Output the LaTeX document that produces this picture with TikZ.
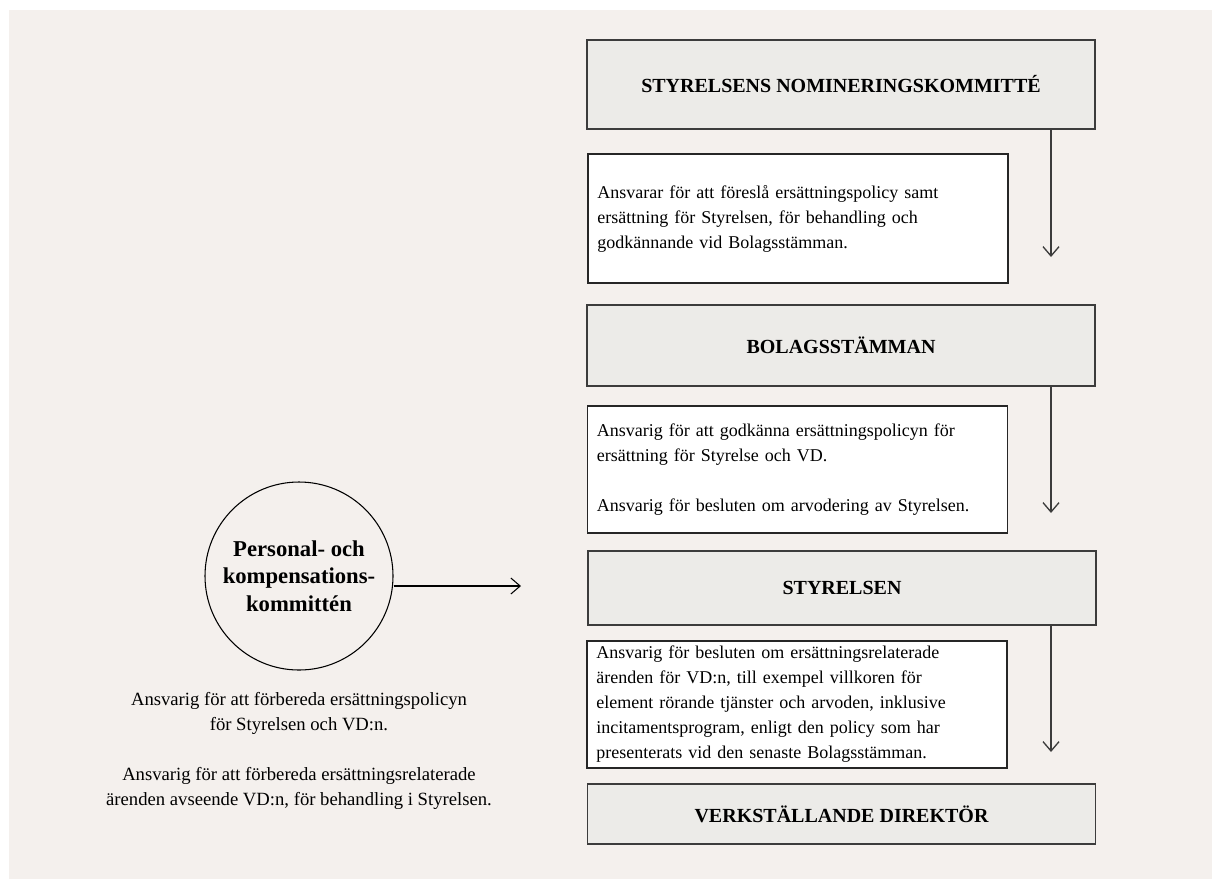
\documentclass[tikz,border=0pt]{standalone}
\usepackage{fontspec}
\setmainfont{Liberation Serif}
\usetikzlibrary{arrows.meta}
\usetikzlibrary{shapes}
\definecolor{panel}{HTML}{F4F0ED}
\definecolor{boxgray}{HTML}{ECEBE8}
\definecolor{edge}{HTML}{3C3C3C}

\begin{document}
\begin{tikzpicture}[x=0.75pt,y=-0.75pt,
    header/.style={draw=edge,line width=1.2pt,fill=boxgray,minimum width=381pt,
        font=\fontsize{15}{18.75}\selectfont\bfseries},
    infobox/.style={draw=black!85,line width=1pt,fill=white,minimum width=315pt,
        text width=301pt,align=left,inner xsep=7pt,font=\fontsize{13.5}{18.75}\selectfont},
    flow/.style={draw=edge,line width=1pt,-{Straight Barb[length=7pt,width=12pt]}}]
    \useasboundingbox (0,0) rectangle (1212,879);
    \fill[white] (0,0) rectangle (1212,879);
    \fill[panel] (9,10) rectangle (1212,879);

    \node[header,minimum height=66.75pt] (nomkom) at (841,84.5) {STYRELSENS NOMINERINGSKOMMITTÉ};
    \node[header,minimum height=60.75pt] (bolag) at (841,345.5) {BOLAGSSTÄMMAN};
    \node[header,minimum height=55.5pt] (styr) at (842,588) {STYRELSEN};
    \node[header,minimum height=45pt] (vd) at (841.5,814) {VERKSTÄLLANDE DIREKTÖR};

    \node[infobox,minimum height=96.75pt] (txtnom) at (798,218.5)
        {Ansvarar för att föreslå ersättningspolicy samt\\ersättning för Styrelsen, för behandling och\\godkännande vid Bolagsstämman.};
    \node[infobox,minimum height=95.25pt] (txtbolag) at (797.5,469.5)
        {Ansvarig för att godkänna ersättningspolicyn för\\ersättning för Styrelse och VD.\\[18.75pt]
         Ansvarig för besluten om arvodering av Styrelsen.};
    \node[infobox,minimum height=95.25pt,inner ysep=1pt] (txtstyr) at (797,704.5)
        {Ansvarig för besluten om ersättningsrelaterade\\ärenden för VD:n, till exempel villkoren för\\element rörande tjänster och arvoden, inklusive\\incitamentsprogram, enligt den policy som har\\presenterats vid den senaste Bolagsstämman.};

    \coordinate (tipa) at (1051,257);
    \coordinate (tipb) at (1051,513);
    \coordinate (tipc) at (1051,752);
    \draw[flow] (nomkom.south -| tipa) -- (tipa);
    \draw[flow] (bolag.south -| tipb) -- (tipb);
    \draw[flow] (styr.south -| tipc) -- (tipc);

    \node[circle,draw=black,line width=0.8pt,minimum size=141pt,align=center,inner sep=0pt,
        font=\fontsize{17}{20.5}\selectfont\bfseries] (komm) at (299,576)
        {Personal- och\\kompensations-\\kommittén};
    \coordinate (tipk) at (521,586);
    \draw[flow,draw=black,line width=0.8pt] (komm.east |- tipk) -- (tipk);

    \node[align=center,font=\fontsize{14}{18.75}\selectfont] (kommtxt) at (299,751)
        {Ansvarig för att förbereda ersättningspolicyn\\för Styrelsen och VD:n.\\[18.75pt]
         Ansvarig för att förbereda ersättningsrelaterade\\ärenden avseende VD:n, för behandling i Styrelsen.};
\end{tikzpicture}
\end{document}
